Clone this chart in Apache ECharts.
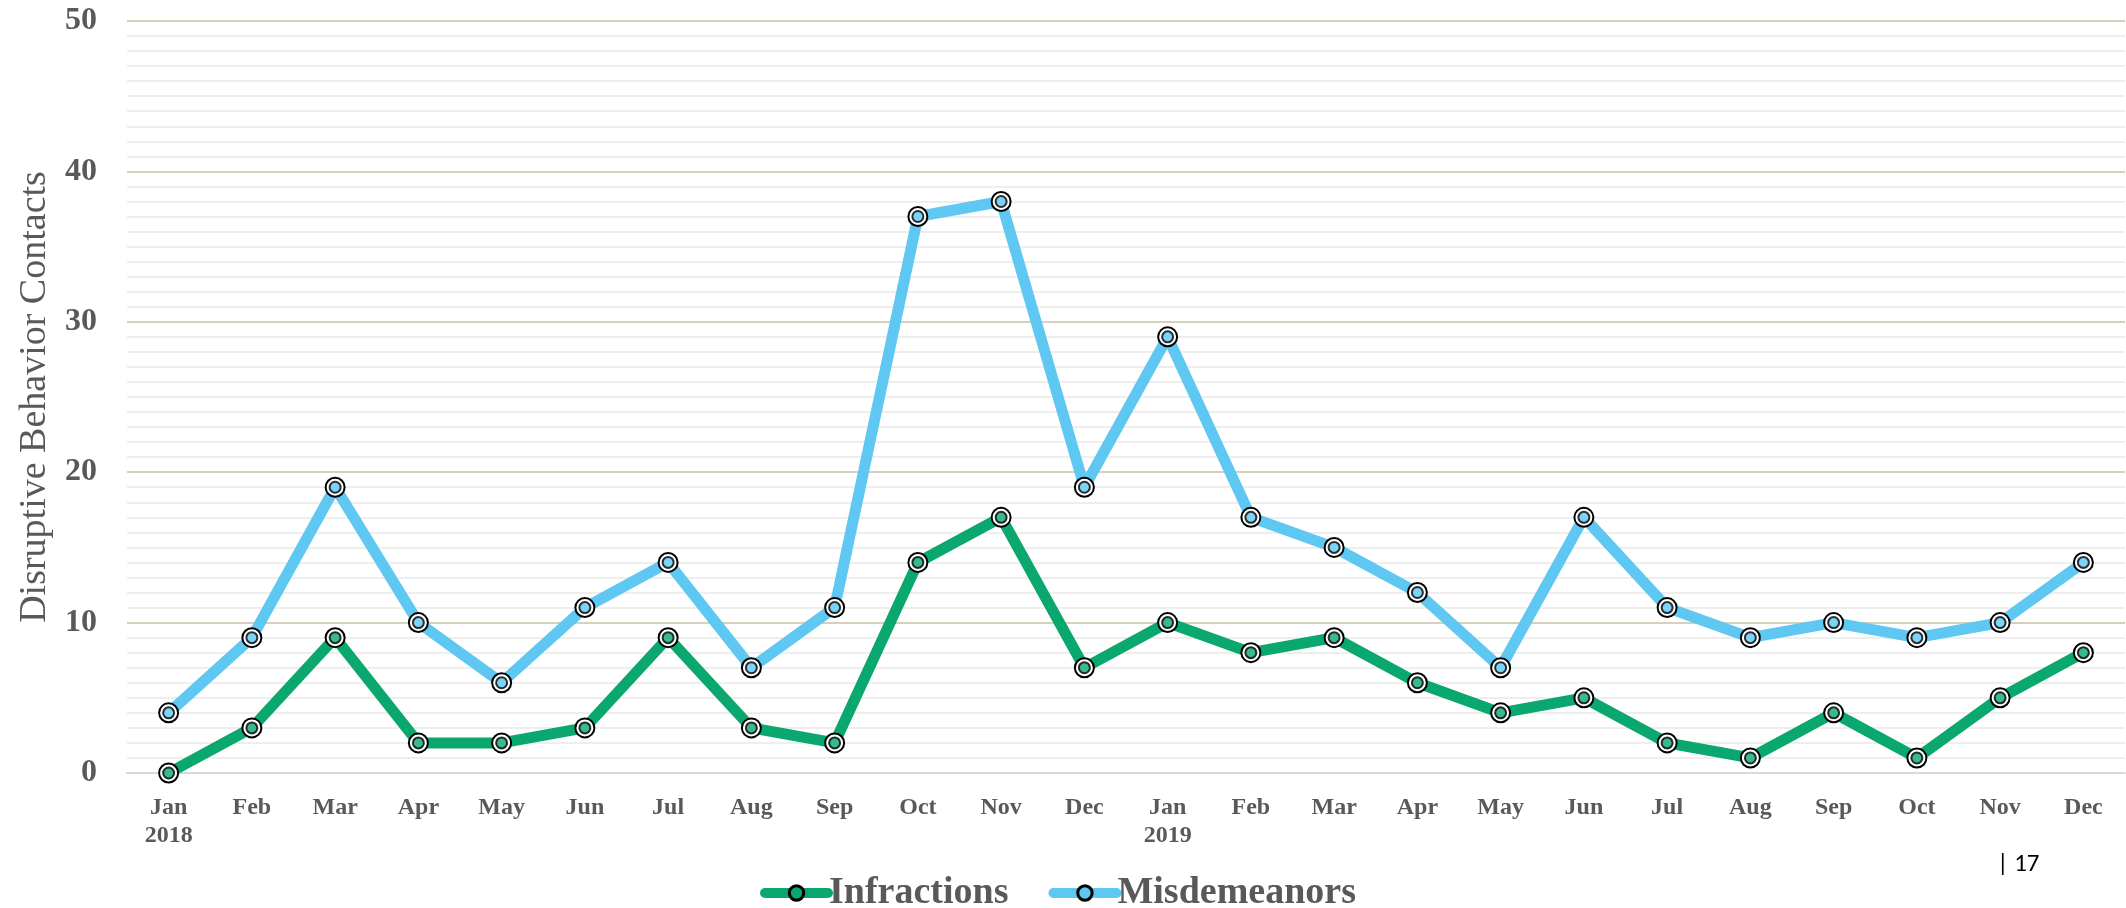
<!DOCTYPE html>
<html>
<head>
<meta charset="utf-8">
<script src="https://cdn.jsdelivr.net/npm/echarts@6/dist/echarts.min.js"></script>
<style>
  html, body { margin: 0; padding: 0; background: #fff; }
  #chart { width: 2126px; height: 908px; }
</style>
</head>
<body>
<div id="chart"></div>
<script>
const months = ["Jan\n2018", "Feb", "Mar", "Apr", "May", "Jun", "Jul", "Aug", "Sep", "Oct", "Nov", "Dec",
  "Jan\n2019", "Feb", "Mar", "Apr", "May", "Jun", "Jul", "Aug", "Sep", "Oct", "Nov", "Dec"];
const infractions = [0, 3, 9, 2, 2, 3, 9, 3, 2, 14, 17, 7, 10, 8, 9, 6, 4, 5, 2, 1, 4, 1, 5, 8];
const misdemeanors = [4, 9, 19, 10, 6, 11, 14, 7, 11, 37, 38, 19, 29, 17, 15, 12, 7, 17, 11, 9, 10, 9, 10, 14];

const green = "#0aa86e";
const blue = "#5ec8f2";
const serif = "Liberation Serif";

const chart = echarts.init(document.getElementById("chart"));

// line + outer white ring marker
const lineSeries = (name, data, color) => ({
  name: name,
  type: "line",
  data: data,
  symbol: "circle",
  symbolSize: 19,
  lineStyle: { color: color, width: 11 },
  itemStyle: { color: "#fff", borderColor: "#000", borderWidth: 2 },
  z: 2,
});

// inner coloured dot of the double-ring marker
const dotSeries = (name, data, color) => ({
  name: name,
  type: "scatter",
  data: data,
  symbol: "circle",
  symbolSize: 11,
  itemStyle: { color: color, borderColor: "#000", borderWidth: 2 },
  z: 3,
  silent: true,
});

chart.setOption({
  animation: false,
  grid: { left: 127, right: 1, top: 21, bottom: 135, outerBoundsMode: "none" },
  legend: {
    data: [
      { name: "Infractions", itemStyle: { color: green, borderColor: "#000", borderWidth: 3 } },
      { name: "Misdemeanors", itemStyle: { color: blue, borderColor: "#000", borderWidth: 3 } },
    ],
    top: 874,
    left: 760,
    padding: 0,
    itemWidth: 63,
    itemHeight: 18,
    itemGap: 40,
    lineStyle: { width: 10, cap: "round" },
    textStyle: { fontFamily: serif, fontWeight: "bold", fontSize: 38, color: "#595959", padding: [0, 0, 0, -4] },
  },
  xAxis: {
    type: "category",
    data: months,
    axisLine: { lineStyle: { color: "#d9d9d9", width: 2 } },
    axisTick: { show: false },
    axisLabel: {
      fontFamily: serif, fontWeight: "bold", fontSize: 24, color: "#595959",
      margin: 21, lineHeight: 28, interval: 0,
    },
  },
  yAxis: {
    type: "value",
    min: 0,
    max: 50,
    interval: 10,
    name: "Disruptive Behavior Contacts",
    nameLocation: "middle",
    nameGap: 72,
    nameTextStyle: { fontFamily: serif, fontSize: 38, color: "#595959" },
    axisLine: { show: false },
    axisTick: { show: false },
    axisLabel: { fontFamily: serif, fontWeight: "bold", fontSize: 32, color: "#595959", margin: 30 },
    splitLine: { lineStyle: { color: "#d6d0bd", width: 2 } },
    minorTick: { show: false, splitNumber: 10 },
    minorSplitLine: { show: true, lineStyle: { color: "#eeeeee", width: 2 } },
  },
  graphic: [{
    type: "text",
    left: 1997,
    top: 852,
    style: { text: "| 17", fontFamily: "Carlito, Liberation Sans", fontSize: 25, fill: "#000" },
  }],
  series: [
    lineSeries("Infractions", infractions, green),
    lineSeries("Misdemeanors", misdemeanors, blue),
    dotSeries("Infractions dot", infractions, green),
    dotSeries("Misdemeanors dot", misdemeanors, blue),
  ],
});
</script>
</body>
</html>
